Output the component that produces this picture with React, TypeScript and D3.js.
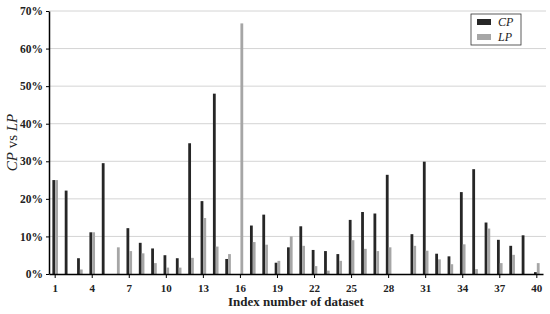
import React, { useEffect, useRef } from 'react';
import * as d3 from 'd3';

const indexes = d3.range(1, 41);
const cpValues = [25, 22.2, 4.2, 11.1, 29.5, 0, 12.2, 8.3, 6.8, 5.0, 4.2, 34.8, 19.4, 48.0, 4.0, 0, 12.9, 15.8, 3.0, 7.1, 12.7, 6.4, 6.1, 5.3, 14.4, 16.5, 16.1, 26.4, 0, 10.6, 29.9, 5.4, 4.7, 21.8, 27.9, 13.7, 9.1, 7.5, 10.3, 0.5];
const lpValues = [25, 0, 1.2, 11.1, 0, 7.1, 6.1, 5.5, 2.9, 1.7, 1.7, 4.3, 14.9, 7.3, 5.3, 66.7, 8.5, 7.8, 3.5, 10.0, 7.5, 2.1, 0.9, 3.5, 9.0, 6.7, 6.1, 7.1, 0, 7.5, 6.2, 3.9, 2.6, 7.9, 1.3, 12.1, 2.9, 5.1, 0, 2.9];
const yTicks = [0, 10, 20, 30, 40, 50, 60, 70];
const xTickLabels = [1, 4, 7, 10, 13, 16, 19, 22, 25, 28, 31, 34, 37, 40];

const seriesNames = ['CP', 'LP'];
const colors = ['#262626', '#a6a6a6'];

const App = () => {
  const svgRef = useRef<SVGSVGElement>(null);
  const width = 550;
  const height = 314;

  useEffect(() => {
    const svg = d3.select(svgRef.current);
    svg.selectAll('*').remove();

    const margin = { top: 11, right: 7, bottom: 40, left: 49 };
    const font = '"Liberation Serif", "Times New Roman", serif';

    const x = d3.scaleBand<number>()
      .domain(indexes)
      .range([margin.left, width - margin.right]);

    const inner = d3.scaleBand<string>()
      .domain(seriesNames)
      .range([0, 5.6]);

    const y = d3.scaleLinear()
      .domain([0, 70])
      .range([height - margin.bottom, margin.top]);

    // gridlines
    svg.append('g')
      .selectAll('line')
      .data(yTicks.slice(1))
      .join('line')
      .attr('x1', margin.left)
      .attr('x2', width - 4)
      .attr('y1', d => y(d))
      .attr('y2', d => y(d))
      .attr('stroke', '#d4d4d4')
      .attr('stroke-width', 1);

    // bars
    const rows = indexes.map((idx, i) => ({ idx, values: [cpValues[i], lpValues[i]] }));
    const groups = svg.append('g')
      .selectAll('g')
      .data(rows)
      .join('g')
      .attr('transform', d => `translate(${x(d.idx)! + x.bandwidth() / 2 - 2.8},0)`);

    groups.selectAll('rect')
      .data(d => d.values.map((v, j) => ({ name: seriesNames[j], v, j })))
      .join('rect')
      .attr('x', d => inner(d.name)!)
      .attr('width', inner.bandwidth())
      .attr('y', d => y(d.v))
      .attr('height', d => y(0) - y(d.v))
      .attr('fill', d => colors[d.j]);

    // y axis
    const yAxis = svg.append('g')
      .attr('transform', `translate(${margin.left},0)`)
      .call(d3.axisLeft(y).tickValues(yTicks).tickFormat(d => `${d}%`).tickSize(3).tickSizeOuter(0));
    yAxis.select('.domain').attr('stroke', '#000').attr('stroke-width', 1.5);
    yAxis.selectAll('text')
      .attr('font-family', font)
      .attr('font-weight', 'bold')
      .attr('font-size', 11.5)
      .attr('fill', '#222');

    // x axis
    const xAxis = svg.append('g')
      .attr('transform', `translate(0,${height - margin.bottom})`)
      .call(d3.axisBottom(x).tickValues(xTickLabels).tickSize(4).tickSizeOuter(0));
    xAxis.select('.domain').attr('stroke', '#000').attr('stroke-width', 1.5);
    xAxis.selectAll('text')
      .attr('font-family', font)
      .attr('font-weight', 'bold')
      .attr('font-size', 11)
      .attr('dy', '1em')
      .attr('fill', '#222');

    // axis titles
    svg.append('text')
      .attr('x', (margin.left + width - margin.right) / 2)
      .attr('y', 306)
      .attr('text-anchor', 'middle')
      .attr('font-family', font)
      .attr('font-weight', 'bold')
      .attr('font-size', 13)
      .attr('fill', '#222')
      .text('Index number of dataset');

    const yTitle = svg.append('text')
      .attr('transform', `translate(17,${(margin.top + height - margin.bottom) / 2}) rotate(-90)`)
      .attr('text-anchor', 'middle')
      .attr('font-family', font)
      .attr('font-size', 15)
      .attr('fill', '#222');
    yTitle.append('tspan').attr('font-style', 'italic').text('CP');
    yTitle.append('tspan').text(' vs ');
    yTitle.append('tspan').attr('font-style', 'italic').text('LP');

    // legend
    const legend = svg.append('g').attr('transform', 'translate(471,14)');
    legend.append('rect')
      .attr('width', 50)
      .attr('height', 31)
      .attr('fill', '#fff')
      .attr('stroke', '#333')
      .attr('stroke-width', 0.8);
    seriesNames.forEach((name, i) => {
      legend.append('rect')
        .attr('x', 6)
        .attr('y', 5 + i * 15)
        .attr('width', 14)
        .attr('height', 6)
        .attr('fill', colors[i]);
      legend.append('text')
        .attr('x', 27)
        .attr('y', 12 + i * 15)
        .attr('font-family', font)
        .attr('font-style', 'italic')
        .attr('font-size', 12)
        .attr('fill', '#222')
        .text(name);
    });
  }, []);

  return (
    <svg ref={svgRef} width={width} height={height} style={{ position: 'absolute', left: 0, top: 0 }} />
  );
};

export default App;
